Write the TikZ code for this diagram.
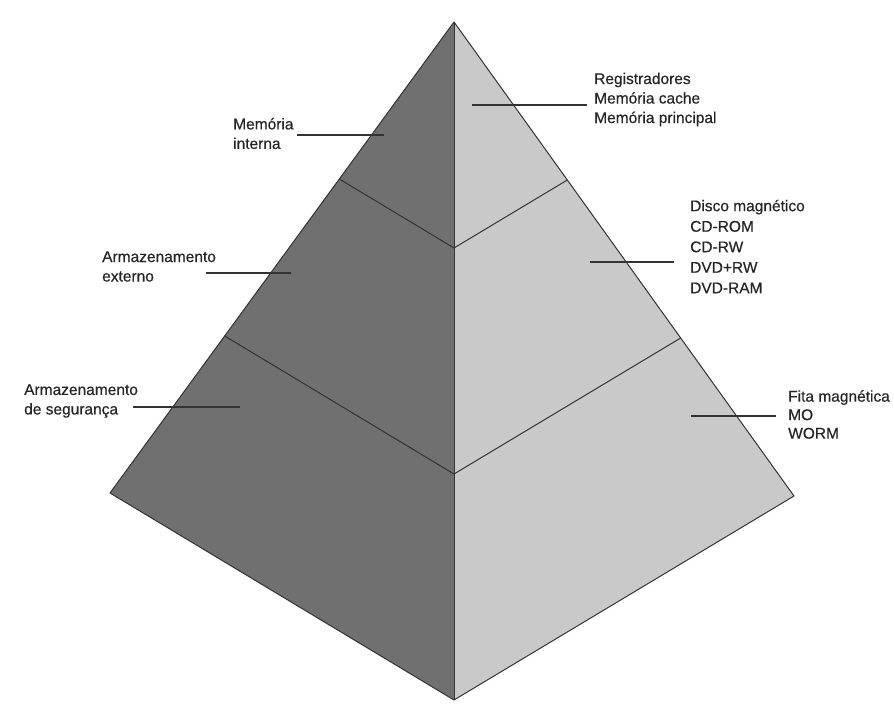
\documentclass[tikz,border=0pt]{standalone}
\usepackage{fontspec}
\setmainfont{Liberation Sans}
\newfontfamily\lblfont{Liberation Sans}[FakeBold=0.5]
\usepackage{xcolor}
\usetikzlibrary{calc,positioning}
\definecolor{leftgray}{gray}{0.44}
\definecolor{rightgray}{gray}{0.79}
\definecolor{inkgray}{gray}{0.2}
\definecolor{textgray}{gray}{0.15}
\tikzset{
  leftface/.style={
    fill=leftgray,
  },
  rightface/.style={
    fill=rightgray,
  },
  edge/.style={draw=inkgray, line width=1pt, line join=round},
  leader/.style={draw=inkgray, line width=1.1pt},
  lbl/.style={
    anchor=west,
    inner sep=0pt,
    align=left,
    text=textgray,
    font=\lblfont\fontsize{15.5}{19.5}\selectfont,
  },
}

\begin{document}
\begin{tikzpicture}[x=1pt,y=-1pt]
  \useasboundingbox (0,0) rectangle (894,707);
  % corners of the pyramid
  \coordinate (top) at (454,22);
  \coordinate (left) at (110,493);
  \coordinate (front) at (454,700);
  \coordinate (right) at (794,496);
  % level cuts at one and two thirds
  \coordinate (l1) at ($(top)!1/3!(left)$);
  \coordinate (c1) at ($(top)!1/3!(front)$);
  \coordinate (r1) at ($(top)!1/3!(right)$);
  \coordinate (l2) at ($(top)!2/3!(left)$);
  \coordinate (c2) at ($(top)!2/3!(front)$);
  \coordinate (r2) at ($(top)!2/3!(right)$);
  \fill[leftface] (top) -- (left) -- (front) -- cycle;
  \fill[rightface] (top) -- (front) -- (right) -- cycle;
  \draw[edge] (top) -- (left) -- (front) -- (right) -- cycle;
  \draw[edge] (top) -- (front);
  \draw[edge] (l1) -- (c1) -- (r1);
  \draw[edge] (l2) -- (c2) -- (r2);
  % labels on the left
  \node[lbl] (interna) at (233,133.5) {Memória\\interna};
  \node[lbl] (externo) at (102,266.5) {Armazenamento\\externo};
  \node[lbl] (seguranca) at (24,401) {Armazenamento\\de segurança};
  % labels on the right
  \node[lbl] (regs) at (594,99.5) {Registradores\\Memória cache\\Memória principal};
  \node[lbl, font=\lblfont\fontsize{15.5}{20.5}\selectfont] (discos) at (690,246.5) {Disco magnético\\CD-ROM\\CD-RW\\DVD+RW\\DVD-RAM};
  \node[lbl, font=\lblfont\fontsize{15.5}{18.5}\selectfont] (fita) at (788,414.5) {Fita magnética\\MO\\WORM};
  % leader lines
  \coordinate (pi) at (384,135);
  \coordinate (pe) at (291,273);
  \coordinate (pe0) at (206,273);
  \coordinate (ps) at (240,407);
  \coordinate (ps0) at (133,407);
  \coordinate (pr) at (472,105);
  \coordinate (pd) at (590,262);
  \coordinate (pf) at (691,416);
  \draw[leader] ([xshift=3pt]interna.east |- pi) -- (pi);
  \draw[leader] (pe0) -- (pe);
  \draw[leader] (ps0) -- (ps);
  \draw[leader] (pr) -- ([xshift=-7pt]regs.west |- pr);
  \draw[leader] (pd) -- ([xshift=-16pt]discos.west |- pd);
  \draw[leader] (pf) -- ([xshift=-12pt]fita.west |- pf);
\end{tikzpicture}
\end{document}
